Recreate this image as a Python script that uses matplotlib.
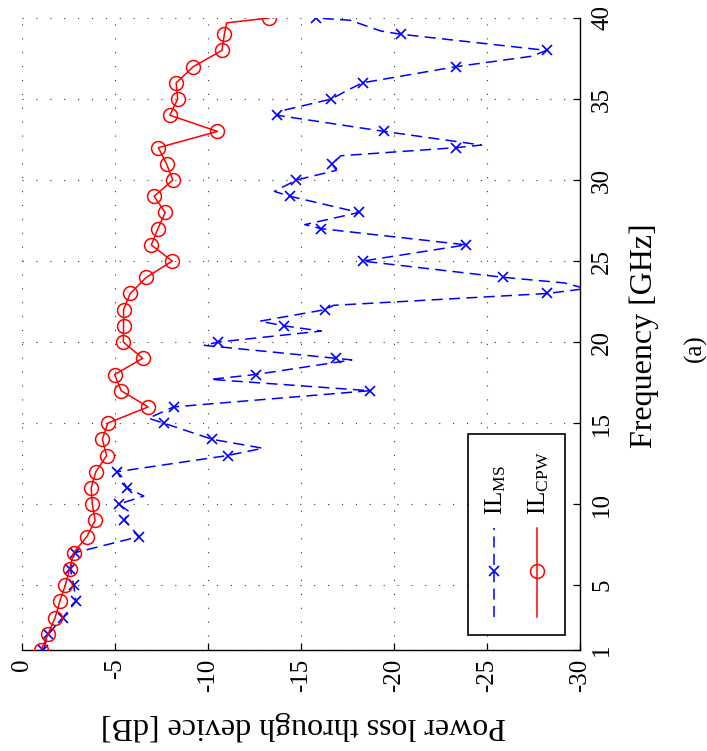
import matplotlib
matplotlib.use('Agg')
import matplotlib.pyplot as plt
import numpy as np
from matplotlib.lines import Line2D
from matplotlib.patches import Rectangle

# ---------------- data ----------------
freq = list(range(1, 41))  # GHz, marker positions

il_ms = [-1.15, -1.42, -2.20, -2.90, -2.78, -2.60, -2.83, -6.30, -5.50, -5.20,
         -5.65, -5.10, -11.05, -10.23, -7.62, -8.15, -18.70, -12.56, -16.88, -10.52,
         -14.11, -16.28, -28.24, -25.87, -18.31, -23.88, -16.09, -18.12, -14.40, -14.75,
         -16.67, -23.35, -19.48, -13.70, -16.63, -18.31, -23.35, -28.20, -20.35, -15.83]

il_cpw = [-1.03, -1.41, -1.78, -2.03, -2.33, -2.56, -2.77, -3.49, -3.93, -3.78,
          -3.72, -3.97, -4.55, -4.32, -4.61, -6.78, -5.33, -4.98, -6.49, -5.45,
          -5.46, -5.46, -5.82, -6.69, -8.08, -6.95, -7.31, -7.70, -7.10, -8.11,
          -7.77, -7.33, -10.51, -7.95, -8.37, -8.29, -9.21, -10.75, -10.88, -13.28]

# extra curve points between markers (peaks / hooks of the traces)
ms_extra_freq = [9.55, 10.5, 13.45, 15.3, 17.7, 18.9, 19.8, 20.68, 21.29, 22.27,
                 23.3, 23.65, 27.25, 29.3, 30.6, 31.5, 32.16, 34.3, 35.6, 37.64,
                 39.2, 39.86]
ms_extra_val = [-5.75, -6.55, -12.95, -6.80, -10.14, -17.73, -9.80, -16.09, -12.79, -16.76,
                -30.30, -29.17, -15.20, -13.57, -16.90, -17.15, -24.70, -14.05, -17.60, -27.40,
                -19.28, -17.64]

cpw_extra_freq = [39.7]
cpw_extra_val = [-11.0]

xticks = [0, -5, -10, -15, -20, -25, -30]
xtick_labels = ['0', '-5', '-10', '-15', '-20', '-25', '-30']
yticks = [1, 5, 10, 15, 20, 25, 30, 35, 40]
ytick_labels = ['1', '5', '10', '15', '20', '25', '30', '35', '40']

# ---------------- style ----------------
plt.rcParams['font.family'] = ['Liberation Serif', 'DejaVu Serif']
plt.rcParams['mathtext.fontset'] = 'custom'
plt.rcParams['mathtext.rm'] = 'Liberation Serif'
plt.rcParams['mathtext.it'] = 'Liberation Serif:italic'
plt.rcParams['lines.scale_dashes'] = False

W, H = 707, 751
fig = plt.figure(figsize=(W / 100, H / 100), dpi=100)
ax = fig.add_axes([22 / W, 1 - 650 / H, 558 / W, 632 / H])


def px(x, y):
    return x / W, 1 - y / H


# combine marker points and extra points into line traces
ms_f = np.array(freq + ms_extra_freq, dtype=float)
ms_v = np.array(il_ms + ms_extra_val, dtype=float)
o = np.argsort(ms_f)
ms_f, ms_v = ms_f[o], ms_v[o]

cp_f = np.array(freq + cpw_extra_freq, dtype=float)
cp_v = np.array(il_cpw + cpw_extra_val, dtype=float)
o = np.argsort(cp_f)
cp_f, cp_v = cp_f[o], cp_v[o]

blue = (0, 0, 1)
red = (1, 0, 0)

ax.plot(ms_v, ms_f, color=blue, lw=1.1, dashes=(8, 4.5), zorder=3)
ax.plot(il_ms, freq, ls='none', marker='x', color=blue, ms=7, mew=1.2, zorder=3)
ax.plot(cp_v, cp_f, color=red, lw=1.1, zorder=4)
ax.plot(il_cpw, freq, ls='none', marker='o', mfc='none', mec=red, ms=10, mew=1.1, zorder=4)

ax.set_xlim(0, -30)
ax.set_ylim(1, 40)
ax.set_xticks(xticks)
ax.set_xticklabels(xtick_labels)
ax.yaxis.tick_right()
ax.set_yticks(yticks)
ax.set_yticklabels(ytick_labels)

ax.tick_params(axis='x', direction='in', length=5, width=0.9, labelsize=18,
               labelrotation=90, pad=6)
ax.tick_params(axis='y', direction='in', length=5, width=0.9, labelsize=18,
               labelrotation=90, pad=8, left=False, right=True)
for lab in ax.get_yticklabels():
    lab.set_va('center')
    lab.set_ha('left')
for lab in ax.get_xticklabels():
    lab.set_va('top')
    lab.set_ha('center')

for s in ['top', 'left']:
    ax.spines[s].set_visible(False)
for s in ['bottom', 'right']:
    ax.spines[s].set_linewidth(1.0)

ax.grid(True, color='0.2', lw=0.8, linestyle=(0, (0.8, 9.2)))
ax.set_axisbelow(True)

# ---------------- legend (rotated, drawn by hand) ----------------
x0, y0 = px(468, 635)
x1, y1 = px(565, 434)
ax.add_patch(Rectangle((x0, y0), x1 - x0, y1 - y0, transform=fig.transFigure,
                       fc='white', ec='black', lw=1.2, zorder=10, clip_on=False))
lx, ly_a = px(494, 617)
_, ly_b = px(494, 528)
_, ly_m = px(494, 571)
ax.add_line(Line2D([lx, lx], [ly_a, ly_b], transform=fig.transFigure, color=blue,
                   lw=1.1, dashes=(8, 4.5), zorder=11, clip_on=False))
ax.add_line(Line2D([lx], [ly_m], transform=fig.transFigure, color=blue, marker='x',
                   ms=7, mew=1.2, ls='none', zorder=11, clip_on=False))
lx2, _ = px(537, 0)
ax.add_line(Line2D([lx2, lx2], [ly_a, ly_b], transform=fig.transFigure, color=red,
                   lw=1.1, zorder=11, clip_on=False))
ax.add_line(Line2D([lx2], [ly_m], transform=fig.transFigure, color=red, marker='o',
                   mfc='none', mec=red, ms=10, mew=1.1, ls='none', zorder=11, clip_on=False))
tx, ty = px(496, 515)
fig.text(tx, ty, r'IL$_{\mathrm{MS}}$', rotation=90, ha='center', va='bottom',
         fontsize=18, zorder=12)
tx, ty = px(539, 515)
fig.text(tx, ty, r'IL$_{\mathrm{CPW}}$', rotation=90, ha='center', va='bottom',
         fontsize=18, zorder=12)

# ---------------- axis labels ----------------
tx, ty = px(644, 336)
fig.text(tx, ty, 'Frequency [GHz]', rotation=90, ha='center', va='center', fontsize=23)
tx, ty = px(695, 348)
fig.text(tx, ty, '(a)', rotation=90, ha='center', va='center', fontsize=18)
tx, ty = px(303, 726)
fig.text(tx, ty, 'Power loss through device [dB]', rotation=180, ha='center',
         va='center', fontsize=23)

fig.savefig('out.png', dpi=100)
